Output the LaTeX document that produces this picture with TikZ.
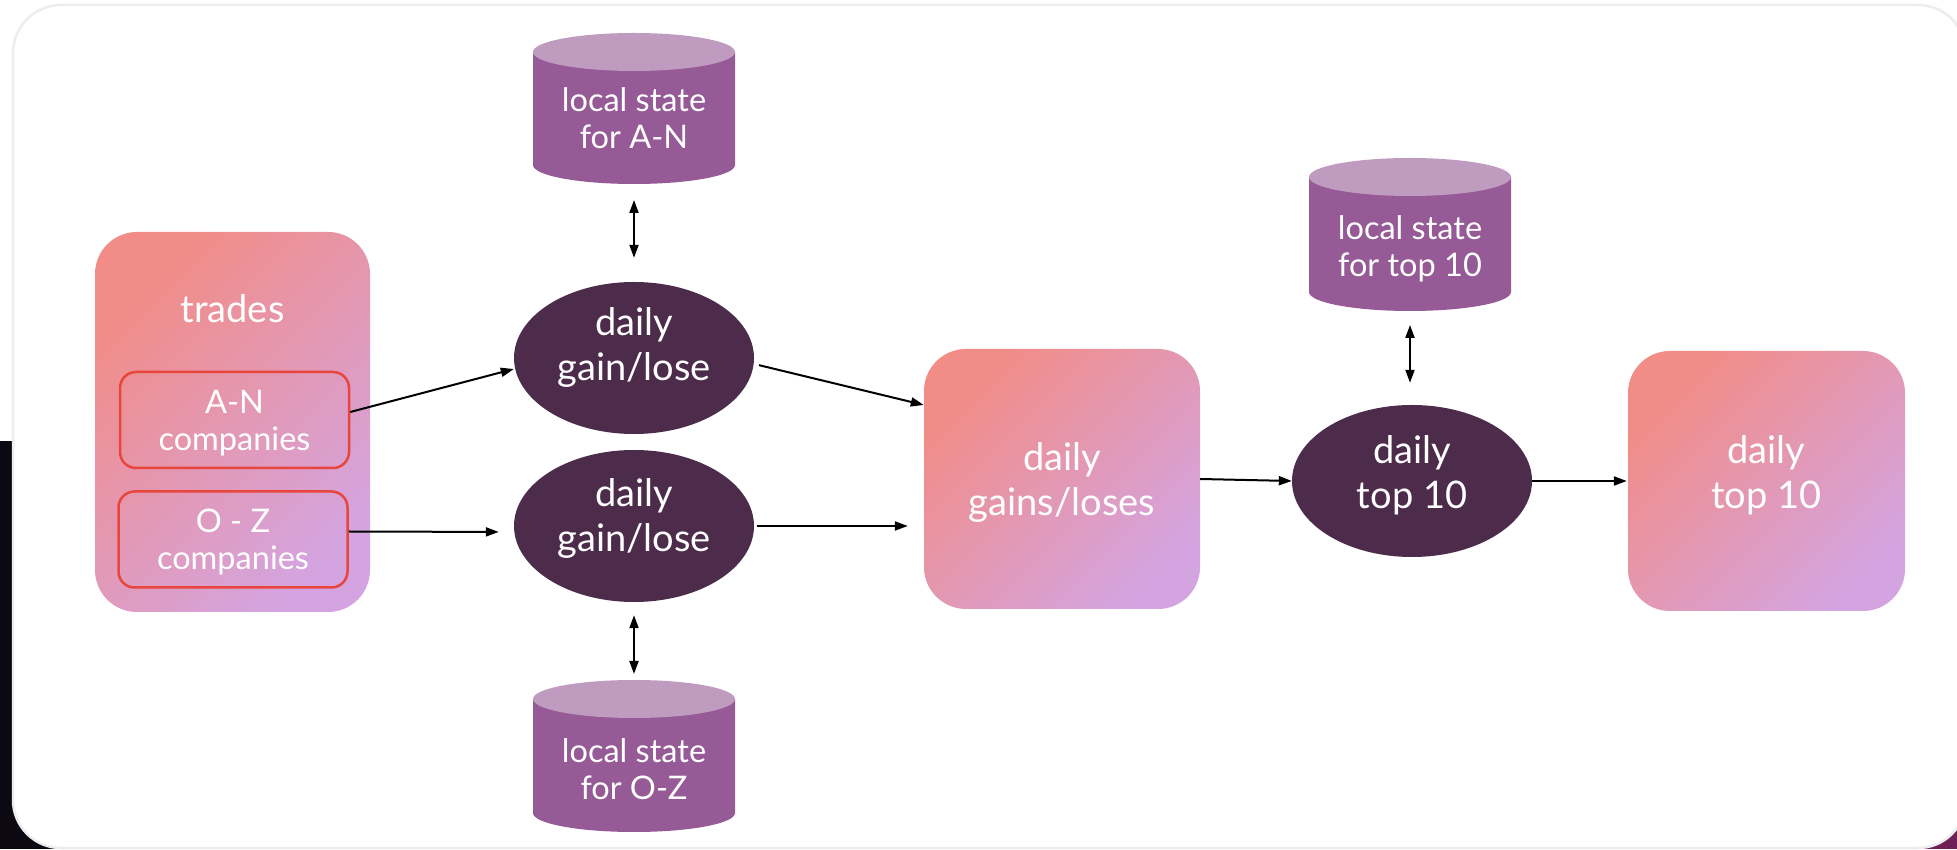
\documentclass[tikz,border=0pt]{standalone}
\usepackage{fontspec}
\setmainfont{Lato}
\usetikzlibrary{arrows.meta,shapes.geometric}

\definecolor{salmon}{HTML}{F28C86}
\definecolor{lavender}{HTML}{D4A4E0}
\definecolor{procfill}{HTML}{4C2B4B}
\definecolor{cylside}{HTML}{965A96}
\definecolor{cyltop}{HTML}{C09BC0}
\definecolor{redline}{HTML}{E8453C}
\definecolor{framegray}{HTML}{EDEDED}
\definecolor{outerdark}{HTML}{0D0913}
\definecolor{outerplum}{HTML}{6E1F55}

\newcommand\bigtxt{\fontsize{38}{45}\selectfont}
\newcommand\smalltxt{\fontsize{32.5}{37}\selectfont}

\begin{document}
\begin{tikzpicture}[x=1pt,y=1pt,
  gradbox/.style={rectangle, rounded corners=42pt, draw=none, inner sep=0pt,
    top color=salmon, bottom color=lavender, shading angle=45,
    text=white, align=center, font=\bigtxt},
  companybox/.style={rectangle, rounded corners=16pt, draw=redline, line width=2.5pt,
    inner sep=0pt, minimum width=229pt, minimum height=96pt, text depth=0pt,
    text=white, align=center, font=\smalltxt},
  procell/.style={ellipse, fill=procfill, draw=none, inner sep=0pt,
    minimum width=240pt, minimum height=152pt,
    text=white, align=center, font=\bigtxt},
  cylhull/.style={rectangle, draw=none, inner sep=0pt, outer sep=0pt, minimum width=202pt},
  cyltext/.style={text=white, align=center, font=\smalltxt, inner sep=0pt},
  arr/.style={-{Triangle[length=13pt,width=9pt]}, line width=2pt, black},
  dbl/.style={{Triangle[length=13pt,width=9pt]}-{Triangle[length=13pt,width=9pt]}, line width=2pt, black}]

\useasboundingbox (0,0) rectangle (1957,849);

% surroundings of the card
\fill[white] (0,0) rectangle (1957,849);
\fill[outerdark] (0,0) rectangle (70,408);
\fill[outerplum] (1880,0) rectangle (1957,60);

% card
\filldraw[fill=white, draw=framegray, line width=2.5pt, rounded corners=48pt]
  (13,1) rectangle (1966,844);

% trades source with its two partitions
\node[gradbox, minimum width=275pt, minimum height=380pt] (trades) at (232.5,427) {};
\node[text=white, font=\bigtxt, inner sep=0pt, anchor=base] (tradesLabel) at (232.5,526) {trades};
\node[companybox] (an) at (234.5,429) {A-N\\companies};
\node[companybox] (oz) at (233,309.5) {O - Z\\companies};

% per-partition processors
\node[procell, text depth=27pt] (gl1) at (634,491) {daily\\gain/lose};
\node[procell, text depth=22pt] (gl2) at (634,323) {daily\\gain/lose};

% merged stream, top-10 processor and result
\node[gradbox, minimum width=276pt, minimum height=260pt, text depth=0pt] (sum) at (1062,370) {daily\\gains/loses};
\node[procell, text depth=17pt] (top) at (1412,368) {daily\\top 10};
\node[gradbox, minimum width=277pt, minimum height=260pt, text depth=17pt] (out) at (1766.5,368) {daily\\top 10};

% state stores (cylinders)
% A-N store
\fill[cylside] (533,797) -- (533,684) arc[start angle=180,end angle=360,x radius=101,y radius=19] -- (735,797) -- cycle;
\fill[cyltop] (634,797) ellipse[x radius=101, y radius=19];
\node[cylhull, minimum height=151pt] (cylA) at (634,740.5) {};
\node[cyltext] (cylAtext) at (634,731) {local state\\for A-N};

% O-Z store
\fill[cylside] (533,150) -- (533,36) arc[start angle=180,end angle=360,x radius=101,y radius=19] -- (735,150) -- cycle;
\fill[cyltop] (634,150) ellipse[x radius=101, y radius=19];
\node[cylhull, minimum height=152pt] (cylZ) at (634,93) {};
\node[cyltext] (cylZtext) at (634,79.5) {local state\\for O-Z};

% top-10 store
\fill[cylside] (1309,672) -- (1309,557) arc[start angle=180,end angle=360,x radius=101,y radius=19] -- (1511,672) -- cycle;
\fill[cyltop] (1410,672) ellipse[x radius=101, y radius=19];
\node[cylhull, minimum height=151pt] (cylT) at (1410,616.5) {};
\node[cyltext] (cylTtext) at (1410,600) {local state\\for top 10};

% data flow
\draw[arr] ([yshift=8pt]an.east) -- ([yshift=-11pt]gl1.west);
\draw[arr, shorten >=15pt] ([yshift=8pt]oz.east) -- ([yshift=-6pt]gl2.west);
\draw[arr, shorten <=5pt] ([yshift=-6pt]gl1.east) -- ([yshift=74pt]sum.west);
\draw[arr, shorten <=3pt, shorten >=16pt] (gl2.east) -- ([yshift=-47pt]sum.west);
\draw[arr] (sum.east) -- (top.west);
\draw[arr, shorten >=1pt] (top.east) -- (out.west);

% state access
\draw[dbl, shorten <=16pt, shorten >=24pt] (cylA.south) -- (gl1.north);
\draw[dbl, shorten <=13pt, shorten >=6pt] (gl2.south) -- (cylZ.north);
\draw[dbl, shorten <=17pt, shorten >=22pt] (cylT.south) -- (cylT.south |- top.north);

\end{tikzpicture}
\end{document}
